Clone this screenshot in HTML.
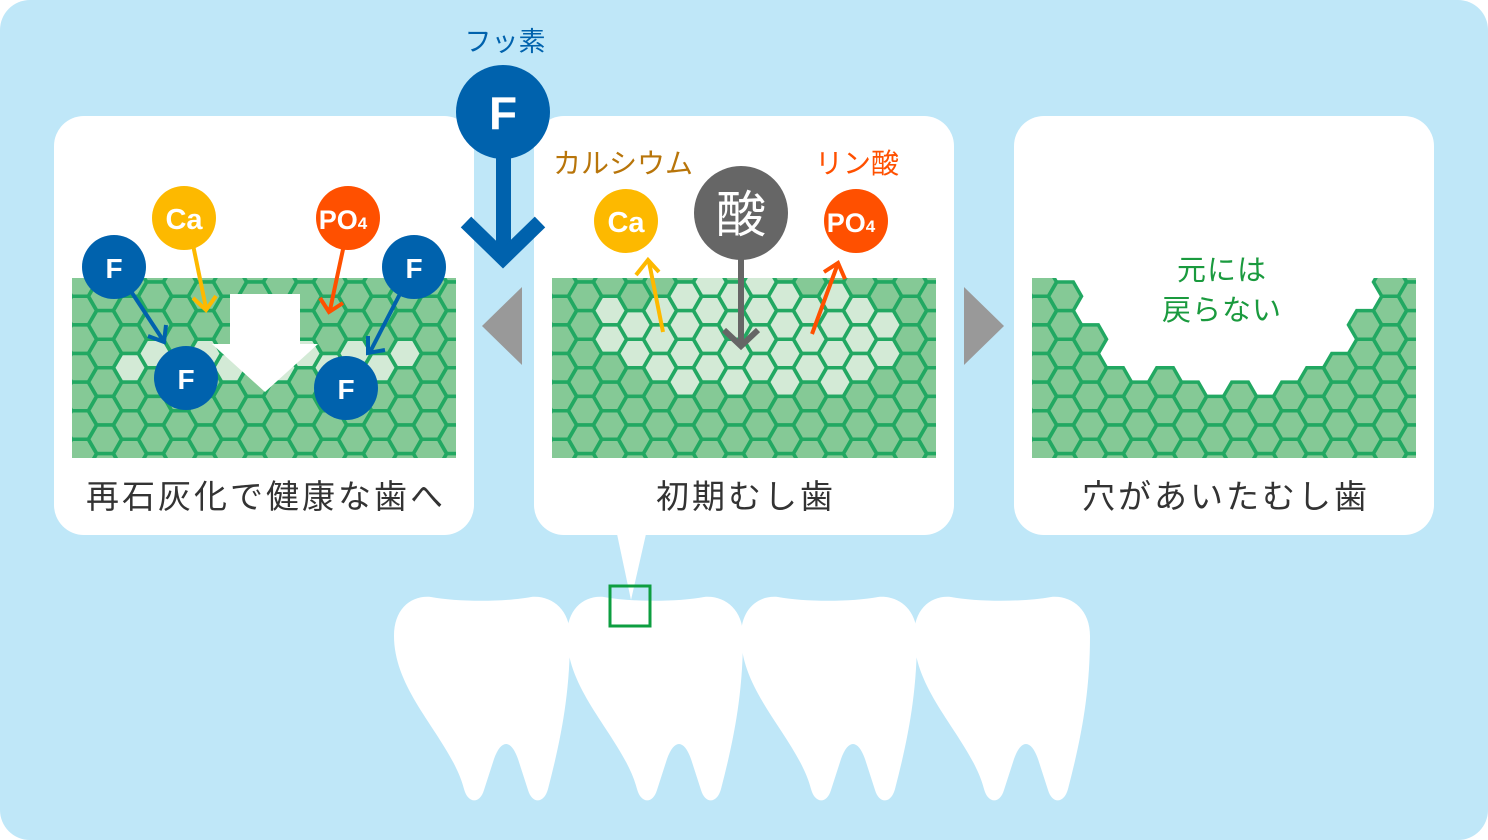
<!DOCTYPE html>
<html><head><meta charset="utf-8"><style>
html,body{margin:0;padding:0;background:#fff;}
svg{display:block;}
text{font-family:"Liberation Sans","Noto Sans CJK JP",sans-serif;}
</style></head><body>
<svg id="s" width="1488" height="840" viewBox="0 0 1488 840" xmlns="http://www.w3.org/2000/svg">
<defs>
<clipPath id="c1"><rect x="72" y="278" width="384" height="180"/></clipPath>
<clipPath id="c2"><rect x="552" y="278" width="384" height="180"/></clipPath>
<clipPath id="c3"><rect x="1032" y="278" width="384" height="180"/></clipPath>
<path id="tooth" d="M1,42 C1,15 18,1 38,3 C64,8 112,8 138,3 C158,1 177,15 177,42 C177,100 168,145 155,195 C151,210 139,210 135,196 L125,165 C118,145 108,145 101,165 L91,196 C87,210 75,210 71,195 C58,145 1,100 1,42 Z" fill="#fff"/>
</defs>
<rect x="0" y="0" width="1488" height="840" rx="30" fill="#bfe7f8"/>
<!-- teeth -->
<use href="#tooth" x="393" y="594"/>
<use href="#tooth" x="566" y="594"/>
<use href="#tooth" x="740" y="594"/>
<use href="#tooth" x="913" y="594"/>
<!-- panels -->
<rect x="54" y="116" width="420" height="419" rx="30" fill="#fff"/>
<rect x="534" y="116" width="420" height="419" rx="30" fill="#fff"/>
<rect x="1014" y="116" width="420" height="419" rx="30" fill="#fff"/>
<polygon points="617,534 646,534 631,600" fill="#fff"/>
<rect x="610" y="586" width="40" height="40" fill="none" stroke="#0d9e40" stroke-width="3"/>
<!-- gray triangles -->
<polygon points="522,287 522,365 482,326" fill="#999"/>
<polygon points="964,287 964,365 1004,326" fill="#999"/>
<g id="h1" clip-path="url(#c1)"></g>
<g id="h2" clip-path="url(#c2)"></g>
<g id="h3" clip-path="url(#c3)"></g>

<!-- panel1 -->
<g stroke-width="4" fill="none" stroke-linecap="butt">
<line x1="115" y1="267" x2="163" y2="340" stroke="#0062ad"/>
<polyline points="148,336 164,342 166,325" stroke="#0062ad"/>
<line x1="192" y1="240" x2="206" y2="308" stroke="#fdb900"/>
<polyline points="193,298 206,310 216,296" stroke="#fdb900"/>
<line x1="345" y1="240" x2="330" y2="310" stroke="#ff5000"/>
<polyline points="320,298 329,312 343,303" stroke="#ff5000"/>
<line x1="402" y1="290" x2="370" y2="352" stroke="#0062ad"/>
<polyline points="368,336 368,353 385,350" stroke="#0062ad"/>
</g>
<rect x="230" y="294" width="70" height="52" fill="#fff"/>
<polygon points="212,344 318,344 265,392" fill="#fff"/>
<g font-weight="bold" fill="#fff" text-anchor="middle">
<circle cx="184" cy="218" r="32" fill="#fdb900"/><text x="184" y="229" font-size="29">Ca</text>
<circle cx="348" cy="218" r="32" fill="#ff5000"/><text x="343" y="229" font-size="27">PO<tspan font-size="17">4</tspan></text>
<circle cx="114" cy="267" r="32" fill="#0062ad"/><text x="114" y="278" font-size="28">F</text>
<circle cx="414" cy="267" r="32" fill="#0062ad"/><text x="414" y="278" font-size="28">F</text>
<circle cx="186" cy="378" r="32" fill="#0062ad"/><text x="186" y="389" font-size="28">F</text>
<circle cx="346" cy="388" r="32" fill="#0062ad"/><text x="346" y="399" font-size="28">F</text>
</g>

<!-- big F -->
<text x="505" y="51" font-size="27" fill="#0062ad" text-anchor="middle">フッ素</text>
<rect x="496" y="150" width="15" height="100" fill="#0062ad"/>
<polyline points="466,222 503,258 540,222" fill="none" stroke="#0062ad" stroke-width="15"/>
<circle cx="503" cy="112" r="47" fill="#0062ad"/>
<text x="503" y="129" font-size="46" font-weight="bold" fill="#fff" text-anchor="middle">F</text>

<!-- panel2 -->
<g stroke-width="4" fill="none">
<line x1="741" y1="255" x2="741" y2="345" stroke="#666" stroke-width="6"/>
<polyline points="724,330 741,346 758,330" stroke="#666" stroke-width="6"/>
<line x1="663" y1="332" x2="649" y2="262" stroke="#fdb900"/>
<polyline points="636,275 648,260 659,272" stroke="#fdb900"/>
<line x1="812" y1="334" x2="837" y2="266" stroke="#ff5000"/>
<polyline points="824,272 838,263 845,279" stroke="#ff5000"/>
</g>
<text x="623" y="173" font-size="28" fill="#b8750a" text-anchor="middle">カルシウム</text>
<text x="857" y="173" font-size="28" fill="#ff5000" text-anchor="middle">リン酸</text>
<g font-weight="bold" fill="#fff" text-anchor="middle">
<circle cx="626" cy="221" r="32" fill="#fdb900"/><text x="626" y="232" font-size="29">Ca</text>
<circle cx="856" cy="221" r="32" fill="#ff5000"/><text x="851" y="232" font-size="27">PO<tspan font-size="17">4</tspan></text>
<circle cx="741" cy="213" r="47" fill="#666"/><text x="741" y="232" font-size="50" font-weight="normal">酸</text>
</g>

<!-- panel3 text -->
<text x="1222" y="280" font-size="29" fill="#1a9a3e" text-anchor="middle" letter-spacing="1">元には</text>
<text x="1222" y="320" font-size="29" fill="#1a9a3e" text-anchor="middle" letter-spacing="1">戻らない</text>

<!-- captions -->
<g font-size="33" fill="#333" text-anchor="middle" letter-spacing="3">
<text x="266" y="508">再石灰化で健康な歯へ</text>
<text x="746" y="508">初期むし歯</text>
<text x="1226" y="508">穴があいたむし歯</text>
</g>
</svg>
<script>
(function(){
var NS="http://www.w3.org/2000/svg";
var r=16.5, cs=25, rs=28.6;
function hex(cx,cy){var p=[];for(var i=0;i<6;i++){var a=Math.PI/3*i;p.push((cx+r*Math.cos(a)).toFixed(1)+","+(cy+r*Math.sin(a)).toFixed(1));}return p.join(" ");}
function build(id,x0,fn){
 var g=document.getElementById(id);
 for(var c=-1;c<18;c++){
  var cx=x0+c*cs;
  for(var k=-1;k<8;k++){
   var cy=278+k*rs+(c%2?rs/2:0)+4;
   var f=fn(cx,cy);
   if(f===null)continue;
   var h=document.createElementNS(NS,"polygon");
   h.setAttribute("points",hex(cx,cy));
   h.setAttribute("fill",f);
   h.setAttribute("stroke","#22a862");
   h.setAttribute("stroke-width","3.5");
   g.appendChild(h);
  }
 }
}
var G="#85c996",L="#d3ead6";
build("h1",80,function(x,y){ if(Math.abs(y-355)<13 && x>125 && x<410) return L; if(Math.abs(y-369)<8&&x>200&&x<330)return L; return G;});
build("h2",560,function(x,y){ var dx=(x-742)/150, dy=(y-338)/58; return (dx*dx+dy*dy<1)?L:G;});
build("h3",1040,function(x,y){ var dx=(x-1224)/160, dy=(y-255)/135; return (dx*dx+dy*dy<1)?null:G;});
})();
</script>
</body></html>
